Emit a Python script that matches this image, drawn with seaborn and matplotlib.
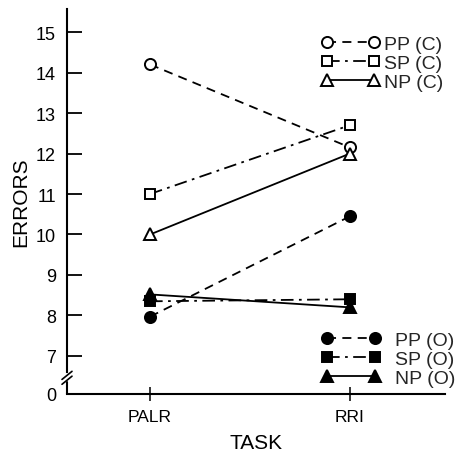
import matplotlib
matplotlib.use("Agg")
import matplotlib.pyplot as plt
from matplotlib.lines import Line2D
import seaborn as sns
import pandas as pd

tasks = ["PALR", "RRI"]
pp_c = [14.2, 12.15]
sp_c = [11.0, 12.7]
np_c = [10.0, 12.0]
pp_o = [7.97, 10.45]
sp_o = [8.35, 8.4]
np_o = [8.52, 8.2]
series_names = ["PP (C)", "SP (C)", "NP (C)", "PP (O)", "SP (O)", "NP (O)"]
ytick_values = [0, 7, 8, 9, 10, 11, 12, 13, 14, 15]

sns.set_theme(style="white")
plt.rcParams["font.family"] = ["Liberation Sans", "DejaVu Sans"]

fig = plt.figure(figsize=(4.61, 4.52), dpi=100)
ax = fig.add_axes([67/461, 1-395/452, (445-67)/461, (395-10)/452])

ZERO_POS = 6.06  # axis break: value 0 drawn here

dash = (0, (5, 3.5))
dashdot = (0, (7, 3, 1.5, 3))
styles = [
    ("o", "white", dash, 8),
    ("s", "white", dashdot, 7),
    ("^", "white", "-", 8.5),
    ("o", "black", dash, 8),
    ("s", "black", dashdot, 7),
    ("^", "black", "-", 8.5),
]
all_vals = [pp_c, sp_c, np_c, pp_o, sp_o, np_o]
handles = []
for name, vals, (mk, fc, ls, ms) in zip(series_names, all_vals, styles):
    df = pd.DataFrame({"task": tasks, "errors": vals})
    sns.lineplot(data=df, x="task", y="errors", ax=ax, color="black",
                 marker=mk, markersize=ms, markerfacecolor=fc,
                 markeredgecolor="black", markeredgewidth=1.4,
                 linestyle=ls, linewidth=1.3, legend=False)
    handles.append(Line2D([], [], color="black", marker=mk, markersize=ms,
                          markerfacecolor=fc, markeredgecolor="black",
                          markeredgewidth=1.4, linestyle=ls, linewidth=1.3))

ax.set_xlim(-0.415, 1.475)
ax.set_ylim(ZERO_POS, 15.57)

ypos = [ZERO_POS if v == 0 else v for v in ytick_values]
ax.set_yticks(ypos)
ax.set_yticklabels([str(v) for v in ytick_values], fontsize=13)
ax.tick_params(axis="y", direction="in", length=11, width=1.3, pad=8,
               left=True, colors="black")
ax.yaxis.get_major_ticks()[0].tick1line.set_visible(False)
ax.set_xticks([0, 1])
ax.set_xticklabels(tasks, fontsize=12.5)
ax.tick_params(axis="x", direction="inout", length=10, width=1.1, pad=6,
               bottom=True, colors="black")

for s in ["top", "right"]:
    ax.spines[s].set_visible(False)
for s in ["left", "bottom"]:
    ax.spines[s].set_color("black")
    ax.spines[s].set_linewidth(1.5)
ax.spines["left"].set_bounds(6.6, 15.57)
ax.plot([-0.415, -0.415], [ZERO_POS, 6.35], color="black", lw=1.5,
        clip_on=False)
# break marks
for y0 in [6.38, 6.5]:
    ax.plot([-0.44, -0.39], [y0 - 0.08, y0 + 0.12], color="black", lw=1.2,
            clip_on=False)

ax.set_xlabel("TASK", fontsize=15, labelpad=6, color="black")
ax.set_ylabel("ERRORS", fontsize=15, labelpad=4, color="black")
ax.grid(False)

leg1 = ax.legend(handles[:3], series_names[:3], loc="upper left",
                 bbox_to_anchor=(321/461, 1-36/452), bbox_transform=fig.transFigure,
                 frameon=False, fontsize=14, handlelength=3.0, numpoints=2,
                 handletextpad=0.25, labelspacing=0.07, borderpad=0,
                 borderaxespad=0)
ax.add_artist(leg1)
ax.legend(handles[3:], series_names[3:], loc="upper left",
          bbox_to_anchor=(321/461, 1-332/452), bbox_transform=fig.transFigure,
          frameon=False, fontsize=14, handlelength=3.1, numpoints=2,
          handletextpad=0.7, labelspacing=0.07, borderpad=0,
          borderaxespad=0)

fig.savefig("out.png", dpi=100)
